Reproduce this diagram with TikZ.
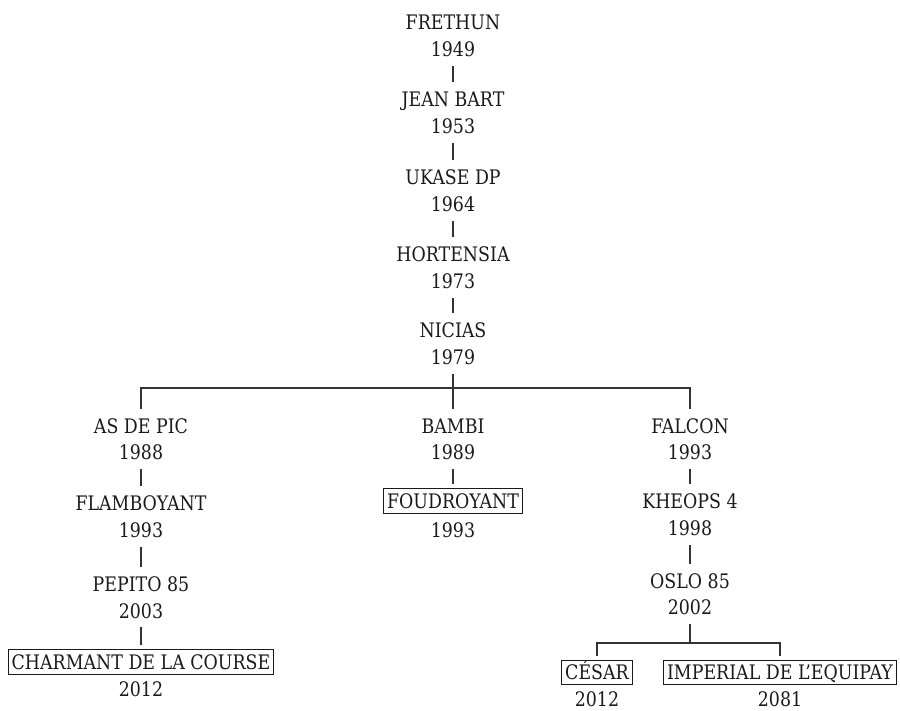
\documentclass[tikz,border=0pt]{standalone}
\usepackage{fontspec}
\setmainfont{DejaVu Serif}[FakeStretch=0.87]
\definecolor{ink}{HTML}{1A1A1A}
\definecolor{wire}{HTML}{333333}
\begin{document}
\begin{tikzpicture}[x=1pt,y=-1pt,
  every node/.style={font=\fontsize{20}{24}\selectfont, text=ink, inner sep=0pt,
    text height=14.6pt, text depth=0pt},
  nm/.style={outer ysep=10pt},
  yr/.style={outer ysep=9pt},
  boxed/.style={draw=ink, line width=1.1pt, inner xsep=3.5pt, inner ysep=5pt, outer ysep=4.5pt},
  link/.style={draw=wire, line width=1.4pt}]
\useasboundingbox (0,0) rectangle (900,711);
% main trunk
\node[nm] (frethun) at (453,22) {FRETHUN};
\node[yr] (y1949) at (453,49.5) {1949};
\node[nm] (jeanbart) at (453,99) {JEAN BART};
\node[yr] (y1953) at (453,126.5) {1953};
\node[nm] (ukase) at (453,177) {UKASE DP};
\node[yr] (y1964) at (453,204.5) {1964};
\node[nm] (hortensia) at (453,254) {HORTENSIA};
\node[yr] (y1973) at (453,281.5) {1973};
\node[nm] (nicias) at (453,330) {NICIAS};
\node[yr] (y1979) at (453,357.5) {1979};
% column 1
\node[nm] (asdepic) at (141,426) {AS DE PIC};
\node[yr] (y1988) at (141,452.5) {1988};
\node[nm] (flamboyant) at (141,503) {FLAMBOYANT};
\node[yr] (y1993a) at (141,530.5) {1993};
\node[nm] (pepito) at (141,584) {PEPITO 85};
\node[yr] (y2003) at (141,611) {2003};
\node[boxed] (charmant) at (141,662) {CHARMANT DE LA COURSE};
\node[yr] (y2012a) at (141,689) {2012};
% column 2
\node[nm] (bambi) at (453,426) {BAMBI};
\node[yr] (y1989) at (453,452.5) {1989};
\node[boxed] (foudroyant) at (453,501) {FOUDROYANT};
\node[yr] (y1993b) at (453,530) {1993};
% column 3
\node[nm] (falcon) at (690,426) {FALCON};
\node[yr] (y1993c) at (690,452.5) {1993};
\node[nm] (kheops) at (690,501) {KHEOPS 4};
\node[yr] (y1998) at (690,528.5) {1998};
\node[nm] (oslo) at (690,581) {OSLO 85};
\node[yr] (y2002) at (690,607.5) {2002};
\node[boxed] (cesar) at (597,672.5) {CÉSAR};
\node[yr] (y2012b) at (597,699.5) {2012};
\node[boxed] (imperial) at (780,672.5) {IMPERIAL DE L’EQUIPAY};
\node[yr] (y2081) at (780,699.5) {2081};
% junctions
\coordinate (j1) at (453,388);
\coordinate (j2) at (690,643);
% connectors
\path[link] (y1949.south) -- (jeanbart.north);
\path[link] (y1953.south) -- (ukase.north);
\path[link] (y1964.south) -- (hortensia.north);
\path[link] (y1973.south) -- (nicias.north);
\path[link] (y1979.south) -- (j1);
\path[link] (j1) -| (asdepic.north);
\path[link] (j1) -- (bambi.north);
\path[link] (j1) -| (falcon.north);
\path[link] (y1988.south) -- (flamboyant.north);
\path[link] (y1993a.south) -- (pepito.north);
\path[link] (y2003.south) -- (charmant.north);
\path[link] (y1989.south) -- (foudroyant.north);
\path[link] (y1993c.south) -- (kheops.north);
\path[link] (y1998.south) -- (oslo.north);
\path[link] (y2002.south) -- (j2);
\path[link] (j2) -| (cesar.north);
\path[link] (j2) -| (imperial.north);
\end{tikzpicture}
\end{document}
